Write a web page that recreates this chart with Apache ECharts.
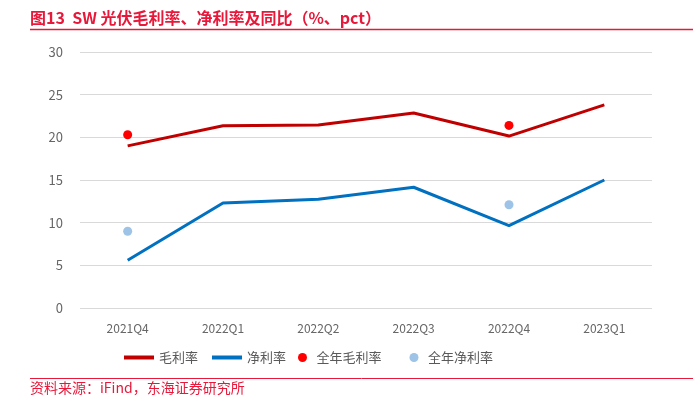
<!DOCTYPE html>
<html><head><meta charset="utf-8">
<script src="https://cdn.jsdelivr.net/npm/echarts@6/dist/echarts.min.js"></script>
<style>html,body{margin:0;padding:0;background:#fff}#c{width:693px;height:405px}</style>
</head><body><div id="c"></div>
<script>
var categories = ['2021Q4','2022Q1','2022Q2','2022Q3','2022Q4','2023Q1'];
var grossMargin = [19.0, 21.35, 21.45, 22.85, 20.15, 23.8];
var netMargin = [5.6, 12.3, 12.75, 14.15, 9.65, 15.0];
var annualGross = [20.3, null, null, null, 21.4, null];
var annualNet = [9.0, null, null, null, 12.1, null];
var yTicks = [0, 5, 10, 15, 20, 25, 30];

var chart = echarts.init(document.getElementById('c'));
var font = '"Microsoft YaHei","Noto Sans CJK SC",sans-serif';
chart.setOption({
  animation: false,
  textStyle: {fontFamily: font},
  title: {
    text: '图13  SW 光伏毛利率、净利率及同比（%、pct）',
    left: 25, top: 5,
    textStyle: {color: '#e8183a', fontSize: 16, fontWeight: 'bold', fontFamily: font}
  },
  graphic: [
    {type: 'line', shape: {x1: 30, y1: 29.5, x2: 693, y2: 29.5}, style: {stroke: '#e8183a', lineWidth: 1.5}},
    {type: 'line', shape: {x1: 30, y1: 378.5, x2: 693, y2: 378.5}, style: {stroke: '#e8183a', lineWidth: 1}},
    {type: 'text', left: 30, top: 381, style: {text: '资料来源：iFind，东海证券研究所', fill: '#e8183a', font: '14px ' + font}}
  ],
  grid: {left: 80, right: 41, top: 52, bottom: 97, containLabel: false},
  legend: [{
    top: 346, left: 119, itemGap: 14, itemWidth: 30, itemHeight: 4, itemTextGap: 3,
    textStyle: {color: '#595959', fontSize: 13},
    data: [{name: '毛利率', icon: 'rect'}, {name: '净利率', icon: 'rect'}]
  }, {
    top: 346, left: 293, itemGap: 28, itemWidth: 18, itemHeight: 9, itemTextGap: 12,
    textStyle: {color: '#595959', fontSize: 13},
    data: [{name: '全年毛利率', icon: 'circle'}, {name: '全年净利率', icon: 'circle'}]
  }],
  xAxis: {
    type: 'category', data: categories, boundaryGap: true,
    axisLine: {show: false}, axisTick: {show: false},
    axisLabel: {color: '#666', fontSize: 12, margin: 14}
  },
  yAxis: {
    type: 'value', min: 0, max: 30, interval: 5,
    axisLine: {show: false}, axisTick: {show: false},
    axisLabel: {color: '#666', fontSize: 13, margin: 17,
      formatter: function (v) { return yTicks.indexOf(v) >= 0 ? String(v) : ''; }},
    splitLine: {lineStyle: {color: '#d9d9d9', width: 1}}
  },
  series: [
    {name: '毛利率', type: 'line', data: grossMargin, symbol: 'none',
      lineStyle: {color: '#c00000', width: 3}, itemStyle: {color: '#c00000'}},
    {name: '净利率', type: 'line', data: netMargin, symbol: 'none',
      lineStyle: {color: '#0070c0', width: 3}, itemStyle: {color: '#0070c0'}},
    {name: '全年毛利率', type: 'scatter', data: annualGross, symbolSize: 9,
      itemStyle: {color: '#ff0000', opacity: 1}},
    {name: '全年净利率', type: 'scatter', data: annualNet, symbolSize: 9,
      itemStyle: {color: '#9dc3e6', opacity: 1}}
  ]
});
</script></body></html>
